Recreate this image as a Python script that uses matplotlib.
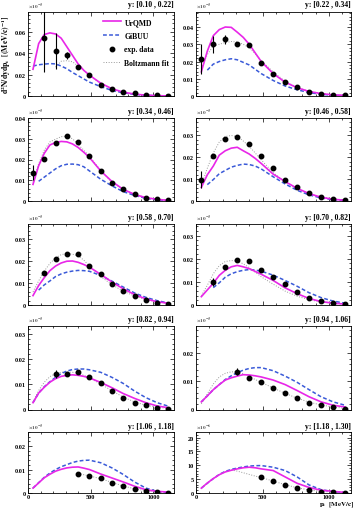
import matplotlib
matplotlib.use("Agg")
import matplotlib.pyplot as plt
from matplotlib.lines import Line2D
from matplotlib.ticker import FixedLocator, MultipleLocator, AutoMinorLocator

plt.rcParams['font.family'] = ['Liberation Serif', 'DejaVu Serif']
plt.rcParams['font.weight'] = 'bold'
plt.rcParams['mathtext.fontset'] = 'stix'

NAN = float('nan')

# rapidity bins (one panel each)
Y_BINS = ["0.10 , 0.22", "0.22 , 0.34", "0.34 , 0.46", "0.46 , 0.58", "0.58 , 0.70",
          "0.70 , 0.82", "0.82 , 0.94", "0.94 , 1.06", "1.06 , 1.18", "1.18 , 1.30"]

# transverse momentum of data bins [MeV/c]; each panel uses the last len(values) bins
P_DATA = [40, 130, 220, 310, 400, 490, 580, 670, 760, 850, 940, 1030, 1120]
# momentum grid on which the model curves were read
P_MODEL = [40, 85, 130, 175, 220, 265, 310, 355, 400, 445, 490, 580, 670, 760, 850, 940, 1030, 1120]
X_TICKS = [0, 500, 1000]

EXP_VALUES = [
    [0.0538, 0.0422, 0.038, 0.0272, 0.0194, 0.010, 0.0063, 0.0038, 0.0025, 0.0012, 0.0006, 0.0003],
    [0.0214, 0.030, 0.033, 0.030, 0.0294, 0.0194, 0.013, 0.008, 0.005, 0.0026, 0.0014, 0.0006, 0.0004],
    [0.0137, 0.0202, 0.0279, 0.0311, 0.0282, 0.0218, 0.0145, 0.0085, 0.0056, 0.0035, 0.0016, 0.001, 0.0003],
    [0.0098, 0.0205, 0.0285, 0.0292, 0.0262, 0.0205, 0.0149, 0.0098, 0.0065, 0.0035, 0.002, 0.0011, 0.0005],
    [0.0146, 0.0212, 0.0235, 0.0232, 0.0178, 0.014, 0.0095, 0.0066, 0.004, 0.0023, 0.0011, 0.0005],
    [0.0099, 0.0164, 0.0194, 0.0188, 0.0153, 0.0119, 0.0092, 0.0057, 0.0032, 0.0018, 0.001, 0.0006],
    [0.014, 0.014, 0.0149, 0.0127, 0.0103, 0.0073, 0.0047, 0.0027, 0.0016, 0.0007, 0.0003],
    [0.0134, 0.0112, 0.0098, 0.0076, 0.0057, 0.0039, 0.0024, 0.0017, 0.0009, 0.0002],
    [0.0081, 0.0071, 0.0064, 0.0043, 0.0029, 0.0019, 0.0007, 0.0003, 0.0001],
    [5.6, 4.4, 2.9, 1.75, 0.93, 0.35, 0.23, 0.05],
]
EXP_ERRORS = [
    [0.031, 0.017, 0.0035, 0, 0, 0, 0, 0, 0, 0, 0, 0],
    [0.0085, 0.005, 0.0026, 0, 0, 0, 0, 0, 0, 0, 0, 0, 0],
    [0.0036, 0, 0, 0, 0, 0, 0, 0, 0, 0, 0, 0, 0],
    [0.0038, 0, 0, 0, 0, 0, 0, 0, 0, 0, 0, 0, 0],
    [0, 0, 0, 0, 0, 0, 0, 0, 0, 0, 0, 0],
    [0.0019, 0, 0, 0, 0, 0, 0, 0, 0, 0, 0, 0],
    [0.0015, 0, 0, 0, 0, 0, 0, 0, 0, 0, 0],
    [0.0013, 0, 0, 0, 0, 0, 0, 0, 0, 0],
    [0, 0, 0, 0, 0, 0, 0, 0, 0],
    [0, 0, 0, 0, 0, 0, 0, 0],
]

URQMD = [
    [0.025, 0.049, 0.0575, 0.059, 0.058, 0.054, 0.046, 0.038, 0.030, 0.024, 0.0195, 0.012, 0.0068, 0.0036, 0.0018, 0.0008, 0.0003, 0.0001],
    [0.014, 0.026, 0.035, 0.0385, 0.040, 0.0398, 0.037, 0.034, 0.030, 0.025, 0.020, 0.013, 0.008, 0.0048, 0.0026, 0.0014, 0.0006, 0.0004],
    [0.008, 0.017, 0.023, 0.027, 0.0282, 0.0287, 0.0285, 0.0275, 0.0258, 0.0235, 0.021, 0.0145, 0.0094, 0.0056, 0.0032, 0.0016, 0.0008, 0.0003],
    [0.0062, 0.012, 0.016, 0.021, 0.023, 0.0242, 0.0246, 0.023, 0.0215, 0.0195, 0.0172, 0.0123, 0.0089, 0.0058, 0.0034, 0.0017, 0.0008, 0.0003],
    [0.0043, 0.0089, 0.0125, 0.0157, 0.0178, 0.0192, 0.020, 0.0201, 0.0195, 0.0185, 0.0173, 0.014, 0.0105, 0.0074, 0.0048, 0.0028, 0.0015, 0.0008],
    [0.0036, 0.0065, 0.0094, 0.0128, 0.015, 0.0165, 0.0171, 0.0165, 0.0157, 0.0145, 0.0133, 0.0106, 0.0074, 0.0049, 0.0028, 0.0015, 0.0008, 0.0004],
    [0.0027, 0.0065, 0.0088, 0.0108, 0.0122, 0.0131, 0.0135, 0.0137, 0.0135, 0.0131, 0.0125, 0.0107, 0.0086, 0.0063, 0.0044, 0.0027, 0.0014, 0.0007],
    [0.0027, 0.0048, 0.007, 0.0088, 0.0104, 0.0112, 0.0118, 0.0123, 0.0122, 0.0119, 0.0115, 0.0104, 0.0088, 0.0067, 0.0045, 0.0027, 0.0015, 0.0009],
    [0.0021, 0.0043, 0.0065, 0.008, 0.0093, 0.0101, 0.0107, 0.011, 0.0111, 0.0106, 0.010, 0.0081, 0.0064, 0.0047, 0.0029, 0.0014, 0.0007, 0.0004],
    [1.75, 3.6, 5.2, 6.6, 7.6, 8.2, 8.7, 9.1, 9.3, 9.1, 8.7, 8.1, 5.8, 3.5, 2.0, 1.0, 0.6, 0.2],
]
GIBUU = [
    [0.028, 0.0292, 0.0298, 0.0303, 0.030, 0.028, 0.0255, 0.022, 0.019, 0.016, 0.013, 0.0088, 0.0052, 0.003, 0.0015, 0.0007, 0.0003, 0.0001],
    [NAN, 0.015, 0.0185, 0.020, 0.021, 0.0216, 0.021, 0.0195, 0.018, 0.0155, 0.013, 0.009, 0.0058, 0.0036, 0.002, 0.001, 0.0004, 0.0002],
    [NAN, 0.0095, 0.0115, 0.0135, 0.0155, 0.017, 0.0177, 0.0178, 0.0175, 0.0165, 0.0145, 0.0105, 0.0073, 0.0045, 0.0027, 0.0013, 0.0006, 0.0002],
    [NAN, 0.0075, 0.0098, 0.0125, 0.014, 0.0155, 0.0163, 0.0169, 0.0167, 0.016, 0.0147, 0.0111, 0.0078, 0.0049, 0.0028, 0.0014, 0.0006, 0.0002],
    [NAN, 0.0068, 0.0092, 0.011, 0.013, 0.0142, 0.015, 0.0155, 0.0158, 0.0157, 0.0154, 0.0135, 0.0109, 0.0082, 0.0055, 0.0035, 0.002, 0.0009],
    [NAN, NAN, 0.0075, 0.0096, 0.012, 0.0135, 0.0144, 0.015, 0.0153, 0.0151, 0.0146, 0.0129, 0.0106, 0.0081, 0.0053, 0.0032, 0.0017, 0.0008],
    [0.0027, 0.0065, 0.009, 0.011, 0.0127, 0.0142, 0.0152, 0.0158, 0.016, 0.016, 0.0157, 0.0147, 0.0127, 0.0103, 0.0073, 0.0047, 0.0027, 0.0013],
    [0.0027, 0.0048, 0.007, 0.0088, 0.0106, 0.0119, 0.013, 0.0139, 0.0145, 0.0148, 0.0148, 0.0137, 0.0118, 0.0096, 0.007, 0.0045, 0.0027, 0.0015],
    [0.0021, 0.0044, 0.0067, 0.0085, 0.010, 0.0112, 0.0121, 0.013, 0.0136, 0.0139, 0.014, 0.0129, 0.0107, 0.0079, 0.0047, 0.0021, 0.0007, 0.0002],
    [1.75, 3.5, 5.2, 6.7, 7.8, 8.5, 9.0, 9.4, 9.7, 9.85, 9.9, 9.3, 8.1, 5.8, 2.9, 1.2, 0.5, 0.2],
]
BOLTZMANN = [
    [NAN, NAN, NAN, NAN, 0.027, 0.0325, 0.033, 0.032, 0.028, 0.024, 0.0195, 0.0115, 0.0062, 0.0033, 0.0016, 0.0008, 0.0004, 0.0002],
    [0.016, 0.024, 0.029, 0.030, 0.031, 0.0316, 0.0313, 0.030, 0.028, 0.0245, 0.0205, 0.014, 0.0085, 0.005, 0.0028, 0.0015, 0.0008, 0.0004],
    [0.009, 0.018, 0.0245, 0.0285, 0.0298, 0.031, 0.0312, 0.030, 0.0272, 0.0245, 0.0215, 0.0148, 0.009, 0.0055, 0.0032, 0.0017, 0.0009, 0.0004],
    [0.007, 0.015, 0.022, 0.027, 0.0295, 0.030, 0.0295, 0.0275, 0.025, 0.022, 0.0188, 0.013, 0.0088, 0.0057, 0.0034, 0.0019, 0.001, 0.0005],
    [0.006, 0.011, 0.0155, 0.019, 0.0215, 0.023, 0.0235, 0.0232, 0.0225, 0.0205, 0.0178, 0.013, 0.0093, 0.0063, 0.0041, 0.0025, 0.0014, 0.0007],
    [0.004, 0.0085, 0.0135, 0.017, 0.0188, 0.0192, 0.019, 0.0178, 0.0162, 0.0142, 0.0122, 0.009, 0.006, 0.0038, 0.0023, 0.0013, 0.0007, 0.0004],
    [0.003, 0.0075, 0.0108, 0.013, 0.0142, 0.0147, 0.0148, 0.0147, 0.0143, 0.0135, 0.0125, 0.0101, 0.0074, 0.0049, 0.003, 0.0017, 0.0009, 0.0004],
    [0.002, 0.0055, 0.009, 0.0115, 0.0128, 0.0133, 0.0133, 0.0126, 0.0116, 0.0106, 0.0096, 0.0076, 0.0057, 0.004, 0.0026, 0.0016, 0.0009, 0.0004],
    [NAN, NAN, NAN, NAN, NAN, NAN, NAN, NAN, 0.0083, 0.0078, 0.0073, 0.0061, 0.0045, 0.003, 0.0018, 0.001, 0.0005, 0.0002],
    [NAN, NAN, NAN, NAN, NAN, 8.3, 7.9, 7.3, 6.7, 6.1, 5.6, 4.3, 3.0, 1.9, 1.1, 0.6, 0.3, 0.1],
]

Y_TOPS = [0.079, 0.049, 0.040, 0.038, 0.037, 0.035, 0.033, 0.0295, 0.026, 22]
Y_STEPS = [0.02, 0.01, 0.01, 0.01, 0.01, 0.01, 0.01, 0.01, 0.01, 5]
EXPONENTS = ["-3"] * 9 + ["-6"]

# layout in pixels (figure is 358 x 510)
W, H = 358, 510
COLS = [(28, 146), (196, 155)]
ROWS = [(12.5, 97), (119, 202), (225, 306), (327, 410.5), (433, 494)]

MAGENTA = '#e826e8'
BLUE = '#3a5ad8'
GRAY = '#9a9a9a'

fig = plt.figure(figsize=(W / 100, H / 100), dpi=100)


def fmt(v):
    if v == 0:
        return "0"
    return f"{v:g}"


for i in range(10):
    row, col = divmod(i, 2)
    x0, w = COLS[col]
    top, bot = ROWS[row]
    ax = fig.add_axes([x0 / W, 1 - bot / H, w / W, (bot - top) / H])

    vals = EXP_VALUES[i]
    p_exp = P_DATA[-len(vals):]

    ax.plot(P_MODEL, BOLTZMANN[i], ':', color=GRAY, lw=0.7)
    ax.plot(P_MODEL, GIBUU[i], '--', color=BLUE, lw=1.1, dashes=(2.5, 1.5))
    ax.plot(P_MODEL, URQMD[i], '-', color=MAGENTA, lw=1.2)
    ax.errorbar(p_exp, vals, yerr=EXP_ERRORS[i], fmt='o', color='black', ms=3.2,
                elinewidth=0.8, capsize=0)

    ax.set_xlim(0, 1165)
    ax.set_ylim(0, Y_TOPS[i])
    step = Y_STEPS[i]
    ticks = []
    t = 0.0
    while t <= Y_TOPS[i] + 1e-9:
        ticks.append(round(t, 6))
        t += step
    ax.yaxis.set_major_locator(FixedLocator(ticks))
    ax.set_yticklabels([fmt(v) for v in ticks])
    ax.yaxis.set_minor_locator(AutoMinorLocator(5))
    ax.xaxis.set_major_locator(FixedLocator(X_TICKS))
    ax.xaxis.set_minor_locator(MultipleLocator(100))
    ax.tick_params(which='both', direction='in', top=True, right=True, width=0.5,
                   labelsize=4.5, pad=1.5)
    ax.tick_params(axis='x', pad=0.6)
    ax.tick_params(which='major', length=3)
    ax.tick_params(which='minor', length=1.5)
    if row == 4:
        ax.set_xticklabels([str(v) for v in X_TICKS])
    else:
        ax.set_xticklabels([])
    for s in ax.spines.values():
        s.set_linewidth(0.6)

    ax.text(1.0, 1.04, "y: [" + Y_BINS[i] + "]", transform=ax.transAxes,
            ha='right', va='bottom', fontsize=5.5, fontweight='bold')
    ax.text(0.0, 1.02, r"$\times10^{%s}$" % EXPONENTS[i], transform=ax.transAxes,
            ha='left', va='bottom', fontsize=3.8, color='0.3')

    if i == 0:
        handles = [
            Line2D([], [], color=MAGENTA, lw=1.2),
            Line2D([], [], color=BLUE, lw=1.1, ls='--', dashes=(2.5, 1.5)),
            Line2D([], [], color='black', marker='o', ms=3.2, ls='none'),
            Line2D([], [], color=GRAY, lw=0.7, ls=':'),
        ]
        labels = ['UrQMD', 'GiBUU', 'exp. data', 'Boltzmann fit']
        ax.legend(handles, labels, loc='upper right', bbox_to_anchor=(1.0, 0.98),
                  frameon=False, fontsize=5.5, handlelength=2.3, labelspacing=0.75,
                  borderaxespad=0.2, handletextpad=0.5)

fig.text(6 / W, 1 - 55 / H, r"$\mathbf{d^2N/dydp_t\ \ [(MeV/c)^{-1}]}$", rotation=90,
         ha='center', va='center', fontsize=5.5)
fig.text(355 / W, 1 - 510 / H, r"$\mathbf{p_t\ \ [MeV/c]}$", ha='right', va='bottom',
         fontsize=5.0)

fig.savefig("out.png", dpi=100)
